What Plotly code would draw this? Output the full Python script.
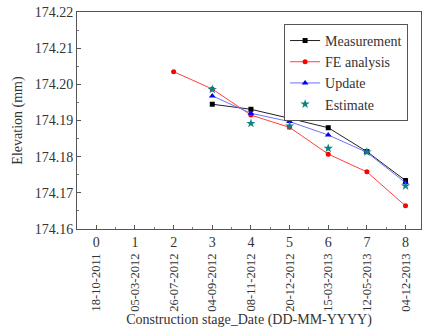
import plotly.graph_objects as go

stages = [0, 1, 2, 3, 4, 5, 6, 7, 8]
dates = ["18-10-2011", "05-03-2012", "26-07-2012", "04-09-2012", "08-11-2012",
         "20-12-2012", "15-03-2013", "12-05-2013", "04-12-2013"]

meas_x = [3, 4, 5, 6, 7, 8]
meas_y = [174.1945, 174.1931, 174.1906, 174.1880, 174.1814, 174.1734]

fe_x = [2, 3, 4, 5, 6, 7, 8]
fe_y = [174.2035, 174.1987, 174.1915, 174.1881, 174.1807, 174.1758, 174.1664]

upd_x = [3, 4, 5, 6, 7, 8]
upd_y = [174.1968, 174.1920, 174.1897, 174.1860, 174.1812, 174.1728]

est_x = [3, 4, 5, 6, 7, 8]
est_y = [174.1986, 174.1892, 174.1885, 174.1823, 174.1813, 174.1719]

FONT = "Liberation Serif"
TXT = "#333333"

fig = go.Figure()
fig.add_trace(go.Scatter(x=meas_x, y=meas_y, name="Measurement", mode="lines+markers",
                         line=dict(color="#222222", width=1),
                         marker=dict(symbol="square", size=5, color="black")))
fig.add_trace(go.Scatter(x=fe_x, y=fe_y, name="FE analysis", mode="lines+markers",
                         line=dict(color="#ff4040", width=1),
                         marker=dict(symbol="circle", size=5, color="#ff0000")))
fig.add_trace(go.Scatter(x=upd_x, y=upd_y, name="Update", mode="lines+markers",
                         line=dict(color="#7070ff", width=1),
                         marker=dict(symbol="triangle-up", size=6, color="#0000ff")))
fig.add_trace(go.Scatter(x=est_x, y=est_y, name="Estimate", mode="markers",
                         marker=dict(symbol="star", size=7, color="#108080")))
# invisible trace to activate the second x axis (date labels)
fig.add_trace(go.Scatter(x=stages, y=[None] * len(stages), xaxis="x2", showlegend=False,
                         hoverinfo="skip", mode="markers"))

fig.update_layout(
    width=424, height=333,
    margin=dict(l=77, r=3, t=12, b=104),
    paper_bgcolor="white", plot_bgcolor="white",
    font=dict(family=FONT, color=TXT, size=14),
    showlegend=True,
    legend=dict(x=0.602, y=0.945, xanchor="left", yanchor="top",
                bordercolor="#555555", borderwidth=1, bgcolor="white",
                font=dict(family=FONT, size=14, color=TXT),
                itemwidth=30, tracegroupgap=0),
    xaxis=dict(range=[-0.5, 8.4], tickvals=stages, ticktext=[str(s) for s in stages],
               ticks="inside", ticklen=4, tickcolor="#555",
               showline=True, linecolor="#555", linewidth=1, mirror=True,
               showgrid=False, zeroline=False,
               minor=dict(ticks="inside", ticklen=2, dtick=0.5, tickcolor="#777"),
               tickfont=dict(size=14, family=FONT, color=TXT)),
    xaxis2=dict(range=[-0.5, 8.4], overlaying="x", side="bottom", anchor="y",
                tickvals=stages, ticktext=dates, tickangle=-90,
                ticklabelstandoff=21, ticks="", showline=False, showgrid=False,
                zeroline=False, tickfont=dict(size=12.5, family=FONT, color=TXT),
                title=dict(text="Construction stage_Date (DD-MM-YYYY)",
                           font=dict(size=14, family=FONT, color=TXT), standoff=2)),
    yaxis=dict(range=[174.16, 174.22], dtick=0.01, tick0=174.16, tickformat=".2f",
               ticks="inside", ticklen=4, tickcolor="#555",
               showline=True, linecolor="#555", linewidth=1, mirror=True,
               showgrid=False, zeroline=False,
               minor=dict(ticks="inside", ticklen=2, dtick=0.005, tickcolor="#777"),
               tickfont=dict(size=14, family=FONT, color=TXT),
               title=dict(text="Elevation (mm)", font=dict(size=14, family=FONT, color=TXT),
                          standoff=8)),
)

fig.write_html("out.html")
